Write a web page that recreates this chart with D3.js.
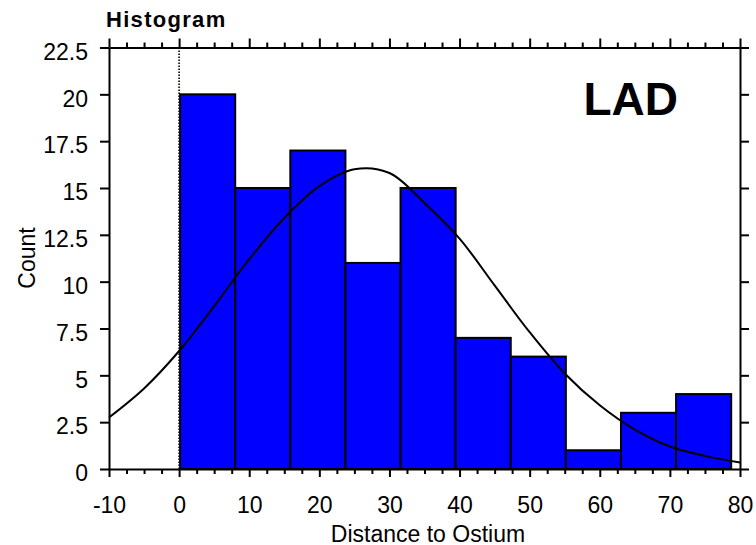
<!DOCTYPE html>
<html>
<head>
<meta charset="utf-8">
<script src="https://cdn.jsdelivr.net/npm/d3@7"></script>
<style>
  html, body { margin: 0; padding: 0; background: #fff; }
  svg { display: block; font-family: "Liberation Sans", Arial, sans-serif; }
</style>
</head>
<body>
<div id="chart"></div>
<script>
// ---- data ----
const binStart = 0;
const binWidth = 7.86;
const counts = [20, 15, 17, 11, 15, 7, 6, 1, 3, 4];
const curveX = [-10, -5, 0, 5, 10, 15, 20, 25, 30, 35, 40, 45, 50, 55, 60, 65, 70, 75, 80];
const curveY = [2.75, 4.3, 6.3, 8.7, 11.2, 13.4, 15.1, 16.0, 15.8, 14.2, 12.3, 9.8, 7.3, 5.1, 3.4, 2.1, 1.2, 0.7, 0.35];
const xTicks = [-10, 0, 10, 20, 30, 40, 50, 60, 70, 80];
const yTicks = [0, 2.5, 5, 7.5, 10, 12.5, 15, 17.5, 20, 22.5];
const title = "Histogram";
const panelLabel = "LAD";
const xTitle = "Distance to Ostium";
const yTitle = "Count";

const W = 756, H = 545;
const svg = d3.select("#chart").append("svg").attr("width", W).attr("height", H);

const x = d3.scaleLinear().domain([-10, 80]).range([109, 740]);
const y = d3.scaleLinear().domain([0, 22.5]).range([469, 47.5]);

const minorX = d3.range(-10, 80.001, 2.5).filter(v => Math.abs(v % 10) > 0.01);

// bars
const bins = counts.map((c, i) => ({x0: binStart + i * binWidth, x1: binStart + (i + 1) * binWidth, c}));

// dotted zero line
svg.append("line")
  .attr("x1", x(0)).attr("x2", x(0))
  .attr("y1", y(22.5)).attr("y2", y(0))
  .attr("stroke", "#000").attr("stroke-width", 1.6)
  .attr("stroke-dasharray", "1.5,1.5");

svg.append("g").selectAll("rect").data(bins).join("rect")
  .attr("x", d => x(d.x0) + 1)
  .attr("y", d => y(d.c))
  .attr("width", d => x(d.x1) - x(d.x0))
  .attr("height", d => y(0) - y(d.c))
  .attr("fill", "#0000FF")
  .attr("stroke", "#000")
  .attr("stroke-width", 2);

// curve
const pts = curveX.map((v, i) => [v, curveY[i]]);
svg.append("path")
  .attr("d", d3.line().x(d => x(d[0])).y(d => y(d[1])).curve(d3.curveCatmullRom)(pts))
  .attr("fill", "none")
  .attr("stroke", "#000")
  .attr("stroke-width", 2);

// axes
const fmt = v => String(v);
const styleAxis = g => {
  g.select(".domain").attr("stroke", "#000").attr("stroke-width", 2);
  g.selectAll(".tick line").attr("stroke", "#000").attr("stroke-width", 2);
  g.selectAll("text").attr("fill", "#000").style("font-size", "23px").style("font-family", "Liberation Sans, Arial, sans-serif");
};

// bottom
const gB = svg.append("g").attr("transform", `translate(0,${y(0)})`)
  .call(d3.axisBottom(x).tickValues(xTicks).tickFormat(fmt).tickSize(8).tickSizeOuter(0))
  .call(styleAxis);
gB.selectAll("text").attr("y", 0).attr("dy", 0).attr("transform", "translate(0,43.5)");
svg.append("g").attr("transform", `translate(0,${y(0)})`)
  .call(d3.axisBottom(x).tickValues(minorX).tickFormat("").tickSize(5).tickSizeOuter(0))
  .call(styleAxis).call(g => g.select(".domain").remove());

// top
svg.append("g").attr("transform", `translate(0,${y(22.5)})`)
  .call(d3.axisTop(x).tickValues(xTicks).tickFormat("").tickSize(9).tickSizeOuter(0))
  .call(styleAxis);
svg.append("g").attr("transform", `translate(0,${y(22.5)})`)
  .call(d3.axisTop(x).tickValues(minorX).tickFormat("").tickSize(5).tickSizeOuter(0))
  .call(styleAxis).call(g => g.select(".domain").remove());

// left
const gL = svg.append("g").attr("transform", `translate(${x(-10)},0)`)
  .call(d3.axisLeft(y).tickValues(yTicks).tickFormat(fmt).tickSize(9).tickPadding(12).tickSizeOuter(0))
  .call(styleAxis);
gL.selectAll("text").attr("dy", "0.51em");

// right
svg.append("g").attr("transform", `translate(${x(80)},0)`)
  .call(d3.axisRight(y).tickValues(yTicks).tickFormat("").tickSize(9).tickSizeOuter(0))
  .call(styleAxis);

// titles
svg.append("text").attr("x", 106).attr("y", 27.3)
  .style("font-size", "22px").style("font-weight", "bold").style("letter-spacing", "1.3px")
  .text(title);

svg.append("text").attr("x", 678).attr("y", 115).attr("text-anchor", "end")
  .style("font-size", "46px").style("font-weight", "bold")
  .text(panelLabel);

svg.append("text").attr("x", 428).attr("y", 541.5).attr("text-anchor", "middle")
  .style("font-size", "23px")
  .text(xTitle);

svg.append("text").attr("transform", "translate(35,258) rotate(-90)").attr("text-anchor", "middle")
  .style("font-size", "23px")
  .text(yTitle);
</script>
</body>
</html>
